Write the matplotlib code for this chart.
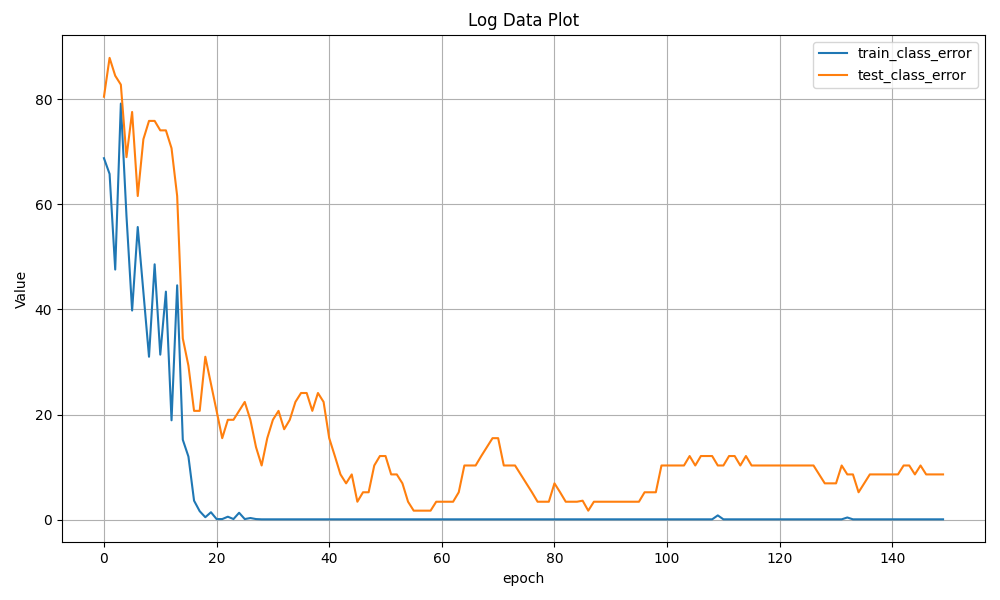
import numpy as np
import matplotlib
matplotlib.use('Agg')
import matplotlib.pyplot as plt

# class error per epoch
train_class_error = [
    68.8, 65.8, 47.6, 79.2, 57.8, 39.8, 55.7, 43.3, 31.0, 48.6,
    31.4, 43.4, 18.9, 44.6, 15.2, 12.0, 3.6, 1.6, 0.45, 1.4,
    0.1, 0.1, 0.55, 0.1, 1.3, 0.1, 0.3, 0.1, 0.05, 0.05,
] + [0.05] * 79 + [0.8] + [0.05] * 22 + [0.4] + [0.05] * 17

test_class_error = [
    80.5, 87.9, 84.5, 82.8, 69.0, 77.6, 61.6, 72.4, 75.9, 75.9,
    74.1, 74.1, 70.7, 61.6, 34.5, 29.3, 20.7, 20.7, 31.0, 25.9,
    20.7, 15.5, 19.0, 19.0, 20.7, 22.4, 19.0, 13.8, 10.3, 15.5,
    19.0, 20.7, 17.2, 19.0, 22.4, 24.1, 24.1, 20.7, 24.1, 22.4,
    15.5, 12.1, 8.6, 6.9, 8.6, 3.4, 5.2, 5.2, 10.3, 12.1,
    12.1, 8.6, 8.6, 6.9, 3.4, 1.7, 1.7, 1.7, 1.7, 3.4,
    3.4, 3.4, 3.4, 5.2, 10.3, 10.3, 10.3, 12.1, 13.8, 15.5,
    15.5, 10.3, 10.3, 10.3, 8.6, 6.9, 5.2, 3.4, 3.4, 3.4,
    6.9, 5.2, 3.4, 3.4, 3.4, 3.6, 1.7, 3.4, 3.4, 3.4,
    3.4, 3.4, 3.4, 3.4, 3.4, 3.4, 5.2, 5.2, 5.2, 10.3,
    10.3, 10.3, 10.3, 10.3, 12.1, 10.3, 12.1, 12.1, 12.1, 10.3,
    10.3, 12.1, 12.1, 10.3, 12.1, 10.3, 10.3, 10.3, 10.3, 10.3,
    10.3, 10.3, 10.3, 10.3, 10.3, 10.3, 10.3, 8.6, 6.9, 6.9,
    6.9, 10.3, 8.6, 8.6, 5.2, 6.9, 8.6, 8.6, 8.6, 8.6,
    8.6, 8.6, 10.3, 10.3, 8.6, 10.3, 8.6, 8.6, 8.6, 8.6,
]

epoch = np.arange(len(test_class_error))

fig = plt.figure(figsize=(10, 6), dpi=100)
plt.plot(epoch, train_class_error, label='train_class_error')
plt.plot(epoch, test_class_error, label='test_class_error')

plt.xlabel("epoch")
plt.ylabel("Value")
plt.title("Log Data Plot")
plt.legend(loc='upper right')
plt.grid(True)

plt.tight_layout()
plt.subplots_adjust(left=0.062, right=0.985, bottom=0.096, top=0.942)
plt.savefig('out.png', dpi=100)
plt.close()
